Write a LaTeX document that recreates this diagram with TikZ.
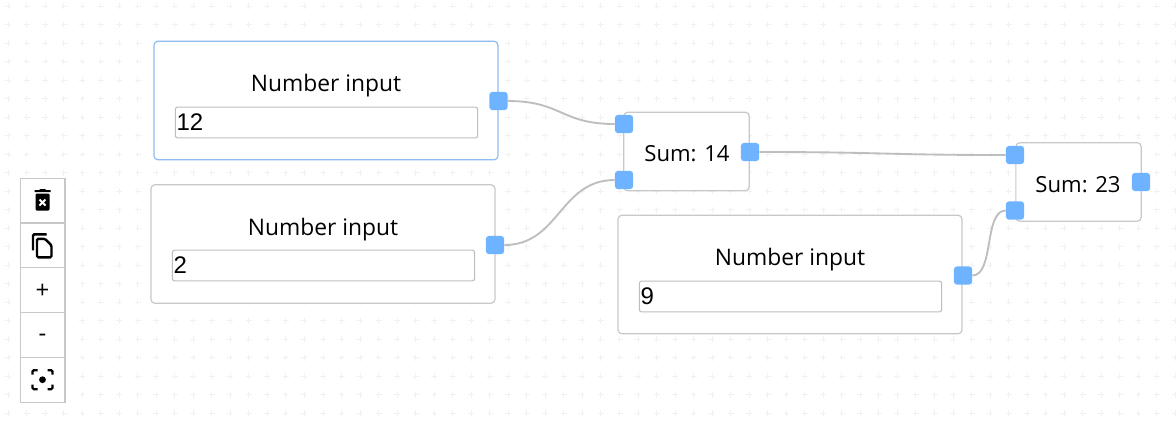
\documentclass[tikz,border=0pt]{standalone}
\usepackage{fontspec}
\setmainfont{Open Sans}
\newfontfamily\fieldfont{Liberation Sans}
\usetikzlibrary{positioning}
\definecolor{portblue}{HTML}{6DB3FF}
\definecolor{edgegrey}{HTML}{C8C8C8}
\definecolor{wiregrey}{HTML}{BEBEBE}
\definecolor{pickblue}{HTML}{8CBDF2}
\definecolor{dotgrey}{HTML}{F1F1F1}
\tikzset{
  numbox/.style={draw=edgegrey,fill=white,rounded corners=3pt,line width=0.9pt,minimum width=258pt,minimum height=89pt,inner sep=0pt},
  sumbox/.style={draw=edgegrey,fill=white,rounded corners=3pt,line width=0.9pt,minimum width=94pt,minimum height=59pt,inner sep=0pt},
  sumtext/.style={inner sep=0pt,font=\fontsize{16.6}{18}\selectfont},
  title/.style={inner sep=0pt,font=\fontsize{17.1}{19}\selectfont},
  field/.style={draw=wiregrey,fill=white,rounded corners=1.5pt,line width=0.8pt,text width=225pt,minimum height=23pt,inner xsep=0.8pt,inner ysep=0pt,align=left,font=\fieldfont\fontsize{18}{20}\selectfont},
  port/.style={fill=portblue,rounded corners=2.2pt,minimum size=13.6pt,inner sep=0pt},
  wire/.style={draw=wiregrey,line width=1.4pt},
  tool/.style={draw=edgegrey,fill=white,line width=0.9pt,outer sep=0pt,minimum size=33.6pt,inner sep=0pt},
  toolmark/.style={inner sep=0pt,font=\fontsize{18}{20}\selectfont}
}
\begin{document}
\begin{tikzpicture}[x=0.75pt,y=-0.75pt,node distance=0pt]
\useasboundingbox (0,0) rectangle (1176,430);
\fill[white] (0,0) rectangle (1176,430);
\foreach \gx in {0,...,63} \foreach \gy in {0,...,22}
  \draw[dotgrey,line width=0.75pt] ({8+18.53*\gx-3},{6+18.5*\gy}) -- +(6,0) ({8+18.53*\gx},{6+18.5*\gy-3}) -- +(0,6);

\node[numbox,draw=pickblue] (numa) at (326,100.5) {};
\node[numbox] (numb) at (323,244) {};
\node[numbox] (numc) at (790,274.5) {};
\node[sumbox] (suma) at (686.5,151.5) {};
\node[sumbox] (sumb) at (1078.5,182) {};

\node[sumtext] (tota) at (687,154) {Sum: 14};
\node[sumtext] (totb) at (1078,185) {Sum: 23};
\node[title] (heada) at (326,86) {Number input};
\node[title] (headb) at (323,230) {Number input};
\node[title] (headc) at (790,260) {Number input};
\node[field] (vala) at (326.5,122.5) {12};
\node[field] (valb) at (323.5,265.5) {2};
\node[field] (valc) at (790.5,296.5) {9};

\node[port] (outa) at (498.5,101) {};
\node[port] (outb) at (495,245) {};
\node[port] (outc) at (963,275.5) {};
\node[port] (ina) at (624,124) {};
\node[port] (inb) at (624,180) {};
\node[port] (outs) at (750,152) {};
\node[port] (inc) at (1015,155) {};
\node[port] (ind) at (1015,210.5) {};
\node[port] (outt) at (1141,182) {};

\draw[wire] (outa.east) .. controls +(54,0) and +(-54,0) .. (ina.west);
\draw[wire] (outb.east) .. controls +(55,0) and +(-55,0) .. (inb.west);
\draw[wire] (outs.east) .. controls +(123,0) and +(-123,0) .. (inc.west);
\draw[wire] (outc.east) .. controls +(22,0) and +(-22,0) .. (ind.west);

\node[tool] (bin) at (42.5,200.5) {};
\node[tool,below=of bin] (copy) {};
\node[tool,below=of copy] (plus) {};
\node[tool,below=of plus] (minus) {};
\node[tool,below=of minus] (focus) {};
\node[toolmark,yshift=-1pt] (plusmark) at (plus.center) {+};
\node[toolmark,yshift=-2.5pt] (minusmark) at (minus.center) {-};

\begin{scope}[shift={(bin.center)}]
\fill[black,rounded corners=0.8pt] (-7,-7) rectangle (7,10);
\fill[black] (-8,-10.5) rectangle (8,-8.5) (-3,-11.5) rectangle (3,-9);
\draw[white,line width=1.5pt] (-3,-1) -- (3,5) (3,-1) -- (-3,5);
\end{scope}
\begin{scope}[shift={(copy.center)}]
\draw[black,line width=1.8pt,rounded corners=1pt] (-9.5,5) -- (-9.5,-11) -- (4,-11);
\draw[black,line width=1.8pt,rounded corners=1pt] (-5.5,-6.5) -- (2.5,-6.5) -- (9,0) -- (9,12) -- (-5.5,12) -- cycle;
\end{scope}
\begin{scope}[shift={(focus.center)}]
\fill[black] (0,0) circle (3.4);
\draw[black,line width=1.7pt,rounded corners=1pt] (-10,-5) -- (-10,-9.5) -- (-5,-9.5) (5,-9.5) -- (10,-9.5) -- (10,-5) (10,5) -- (10,9.5) -- (5,9.5) (-5,9.5) -- (-10,9.5) -- (-10,5);
\end{scope}
\end{tikzpicture}
\end{document}
